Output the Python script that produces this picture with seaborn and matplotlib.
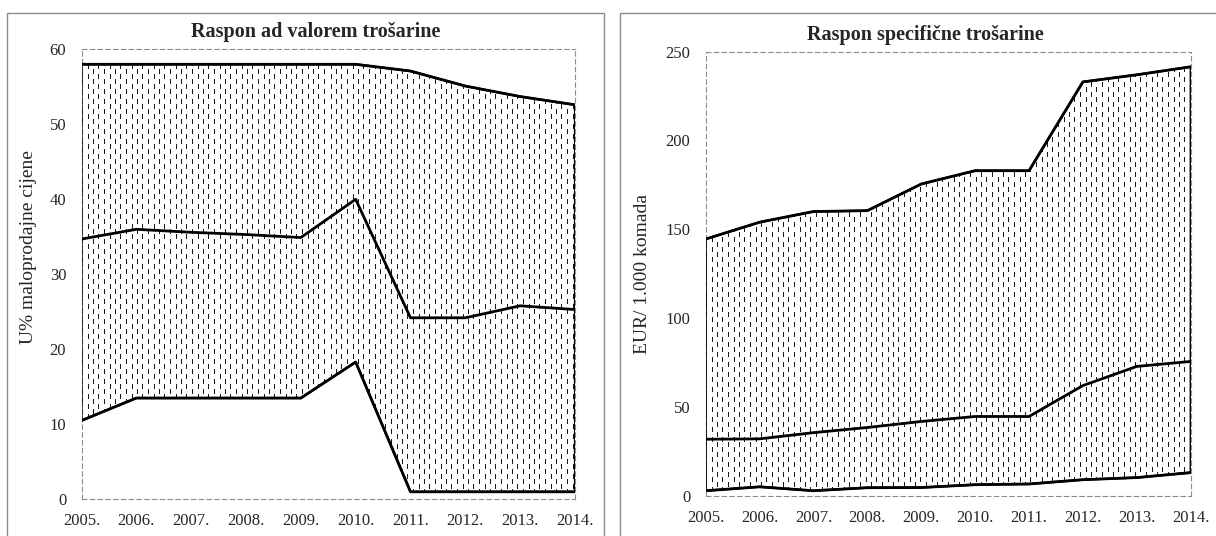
import numpy as np
import pandas as pd
import seaborn as sns
import matplotlib.pyplot as plt
from matplotlib.patches import Rectangle

# Data
years = list(range(2005, 2015))
year_labels = [f"{y}." for y in years]

adval_max = [58, 58, 58, 58, 58, 58, 57.1, 55.1, 53.7, 52.6]
adval_mid = [34.7, 36.0, 35.6, 35.3, 34.9, 40.0, 24.2, 24.2, 25.8, 25.3]
adval_min = [10.5, 13.5, 13.5, 13.5, 13.5, 18.3, 1.0, 1.0, 1.0, 1.0]

spec_max = [144.5, 154, 160, 160.5, 175.5, 183, 183, 233, 237, 241.5]
spec_mid = [31.8, 32, 35.5, 38.4, 41.8, 44.6, 44.6, 62, 72.8, 75.6]
spec_min = [2.8, 5.0, 2.8, 4.5, 4.6, 6.2, 6.6, 9.0, 10.2, 13.0]

W, H = 1216, 536

sns.set_style("white")
plt.rcParams['font.family'] = ['Liberation Serif', 'DejaVu Serif']

fig = plt.figure(figsize=(W / 100, H / 100), dpi=100)

# panel frames
fig.add_artist(Rectangle((7 / W, -0.02), (604 - 7) / W, 1 - 12.7 / H + 0.02,
                         transform=fig.transFigure, fill=False, edgecolor="#8c8c8c", lw=1))
fig.add_artist(Rectangle((620 / W, -0.02), (1222 - 620) / W, 1 - 12.7 / H + 0.02,
                         transform=fig.transFigure, fill=False, edgecolor="#8c8c8c", lw=1))


def dash_texture(h, w, step=5.5, dash=5, period=10):
    # excel-like "dashed vertical" pattern fill
    img = np.ones((h, w))
    n = int(w / step) + 1
    for i in range(n):
        c = int(round(i * step))
        if c >= w:
            break
        off = 0 if i % 2 == 0 else period // 2
        rows = (np.arange(h) + off) % period < dash
        img[rows, c] = 0.1
    return img


def draw_panel(rect, lo, mid, hi, ymax, step, ylabel, label_xy):
    ax = fig.add_axes(rect)
    df = pd.DataFrame({"godina": years, "min": lo, "sred": mid, "max": hi})

    poly = ax.fill_between(df["godina"], df["min"], df["max"], facecolor="none",
                           edgecolor="black", lw=1.6, zorder=3)
    pw, ph = int(rect[2] * W), int(rect[3] * H)
    im = ax.imshow(dash_texture(ph, pw), extent=(2005, 2014, 0, ymax), aspect="auto",
                   cmap="gray", vmin=0, vmax=1, interpolation="nearest", zorder=2)
    im.set_clip_path(poly.get_paths()[0], transform=ax.transData)

    for col in ["min", "sred", "max"]:
        sns.lineplot(data=df, x="godina", y=col, color="black", lw=2.0, ax=ax, zorder=4)

    ax.set_xlim(2005, 2014)
    ax.set_ylim(0, ymax)
    ax.set_xticks(years)
    ax.set_xticklabels(year_labels)
    ax.set_yticks(np.arange(0, ymax + 1, step))
    ax.set_xlabel("")
    ax.set_ylabel(ylabel, fontsize=14)
    ax.yaxis.set_label_coords(*label_xy)
    for s in ax.spines.values():
        s.set_visible(True)
        s.set_linestyle((0, (4, 3)))
        s.set_color("#8c8c8c")
        s.set_linewidth(0.8)
    ax.tick_params(axis="both", length=4, width=0.8, color="#8c8c8c",
                   labelsize=12, direction="out")
    ax.tick_params(axis="y", pad=7)
    ax.tick_params(axis="x", pad=6)
    return ax


draw_panel([81.5 / W, 1 - 499.3 / H, 493.5 / W, 450 / H],
           adval_min, adval_mid, adval_max, 60, 10,
           "U% maloprodajne cijene", (-0.09, 0.56))
draw_panel([705.7 / W, 1 - 495.7 / H, 485 / W, 444 / H],
           spec_min, spec_mid, spec_max, 250, 50,
           "EUR/ 1.000 komada", (-0.113, 0.50))

fig.text(316 / W, 1 - 32 / H, "Raspon ad valorem trošarine", ha="center", va="center",
         fontsize=14.5, fontweight="bold")
fig.text(925 / W, 1 - 35 / H, "Raspon specifične trošarine", ha="center", va="center",
         fontsize=14.5, fontweight="bold")

fig.savefig("out.png", dpi=100)
